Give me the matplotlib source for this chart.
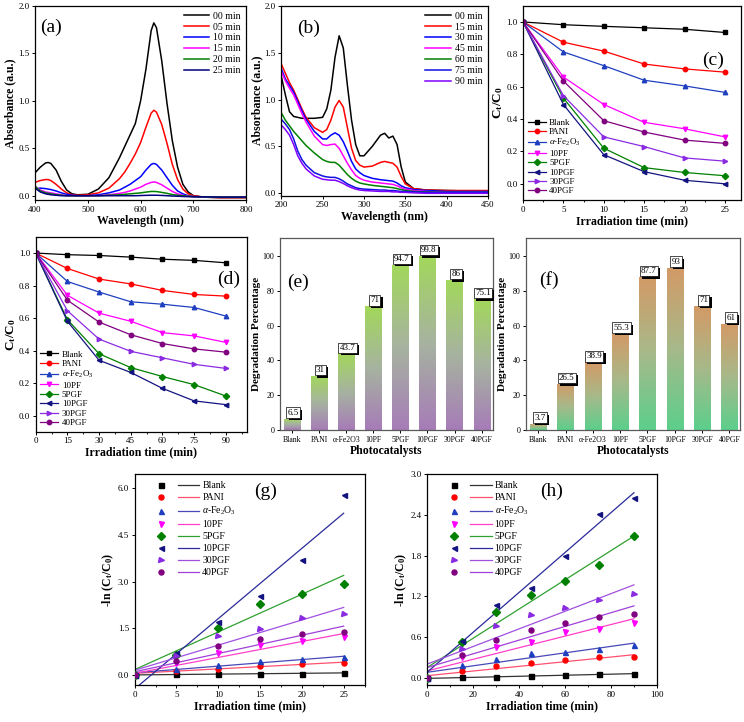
#!/usr/bin/env python3
"""Photocatalytic degradation figure: spectra, kinetics, bar summaries and fits."""

from __future__ import annotations

import matplotlib

matplotlib.use("Agg")
import matplotlib.patheffects as pe
import matplotlib.pyplot as plt
import numpy as np
from matplotlib.colors import LinearSegmentedColormap
from matplotlib.legend_handler import HandlerTuple
from matplotlib.lines import Line2D
from matplotlib.ticker import AutoMinorLocator


# ---- (a) UV-vis spectra, dye 1 ----
WL_A = [400, 410, 420, 425, 430, 440, 450, 460, 470, 480, 500, 520, 540, 560, 570,
        580, 590, 600, 610, 620, 625, 630, 640, 650, 660, 670, 680, 690, 700, 720,
        750, 800]
TIMES_A = ["00 min", "05 min", "10 min", "15 min", "20 min", "25 min"]
ABS_A = [
    [0.24, 0.30, 0.345, 0.35, 0.34, 0.27, 0.15, 0.06, 0.02, 0.01, 0.015, 0.07, 0.19,
     0.40, 0.52, 0.64, 0.76, 1.00, 1.33, 1.74, 1.82, 1.77, 1.42, 0.97, 0.58, 0.30,
     0.12, 0.04, 0.0, -0.015, -0.02, -0.02],
    [0.14, 0.16, 0.17, 0.17, 0.16, 0.12, 0.07, 0.03, 0.01, 0.005, 0.01, 0.03, 0.08,
     0.18, 0.25, 0.34, 0.44, 0.56, 0.72, 0.87, 0.90, 0.88, 0.75, 0.55, 0.33, 0.17,
     0.07, 0.02, 0.0, -0.015, -0.02, -0.02],
    [0.07, 0.08, 0.075, 0.07, 0.065, 0.05, 0.03, 0.015, 0.005, 0.0, 0.0, 0.01, 0.03,
     0.06, 0.09, 0.12, 0.16, 0.20, 0.27, 0.33, 0.34, 0.33, 0.27, 0.19, 0.11, 0.05,
     0.02, 0.0, -0.01, -0.012, -0.015, -0.015],
    [0.10, 0.06, 0.04, 0.035, 0.03, 0.02, 0.01, 0.0, 0.0, 0.0, 0.0, 0.0, 0.01,
     0.025, 0.035, 0.05, 0.07, 0.09, 0.12, 0.14, 0.145, 0.14, 0.115, 0.08, 0.045,
     0.02, 0.005, -0.005, -0.01, -0.012, -0.015, -0.015],
    [0.10, 0.05, 0.03, 0.025, 0.02, 0.01, 0.005, 0.0, 0.0, 0.0, 0.0, 0.0, 0.005,
     0.01, 0.015, 0.02, 0.025, 0.03, 0.038, 0.045, 0.045, 0.044, 0.035, 0.025,
     0.012, 0.005, 0.0, -0.005, -0.01, -0.012, -0.015, -0.015],
    [0.08, 0.04, 0.02, 0.015, 0.01, 0.005, 0.0, 0.0, 0.0, 0.0, 0.0, 0.0, 0.0, 0.0,
     0.0, 0.0, 0.0, 0.002, 0.004, 0.005, 0.005, 0.005, 0.003, 0.0, -0.003, -0.005,
     -0.008, -0.01, -0.01, -0.012, -0.015, -0.015],
]
COLORS_A = ["black", "#ff0000", "#0000ff", "#ff00ff", "#008000", "#000080"]

# ---- (b) UV-vis spectra, dye 2 ----
WL_B = [200, 205, 210, 215, 220, 225, 230, 240, 250, 255, 260, 265, 270, 275, 280,
        285, 290, 295, 300, 310, 320, 325, 330, 335, 340, 345, 350, 360, 375, 400,
        450]
TIMES_B = ["00 min", "15 min", "30 min", "45 min", "60 min", "75 min", "90 min"]
ABS_B = [
    [1.25, 1.05, 0.87, 0.82, 0.81, 0.80, 0.80, 0.80, 0.81, 0.90, 1.10, 1.45, 1.68,
     1.55, 1.15, 0.78, 0.52, 0.40, 0.40, 0.50, 0.62, 0.64, 0.59, 0.61, 0.52, 0.28,
     0.12, 0.05, 0.035, 0.03, 0.02],
    [1.38, 1.28, 1.18, 1.10, 1.00, 0.90, 0.81, 0.70, 0.65, 0.68, 0.78, 0.92, 0.99,
     0.92, 0.70, 0.48, 0.35, 0.30, 0.28, 0.29, 0.33, 0.34, 0.33, 0.32, 0.28, 0.18,
     0.10, 0.05, 0.035, 0.03, 0.03],
    [1.33, 1.22, 1.15, 1.08, 0.98, 0.88, 0.79, 0.66, 0.58, 0.58, 0.62, 0.645, 0.62,
     0.55, 0.45, 0.34, 0.26, 0.22, 0.19, 0.16, 0.145, 0.14, 0.135, 0.13, 0.11, 0.08,
     0.06, 0.04, 0.03, 0.02, 0.02],
    [1.30, 1.20, 1.12, 1.05, 0.95, 0.85, 0.76, 0.61, 0.52, 0.51, 0.52, 0.525, 0.48,
     0.40, 0.32, 0.25, 0.19, 0.16, 0.14, 0.12, 0.11, 0.105, 0.10, 0.095, 0.08, 0.06,
     0.045, 0.03, 0.02, 0.01, 0.01],
    [0.86, 0.78, 0.72, 0.66, 0.61, 0.56, 0.51, 0.43, 0.36, 0.34, 0.33, 0.33, 0.30,
     0.25, 0.20, 0.16, 0.13, 0.11, 0.10, 0.085, 0.075, 0.07, 0.065, 0.06, 0.05, 0.04,
     0.03, 0.02, 0.015, 0.01, 0.01],
    [0.79, 0.74, 0.68, 0.58, 0.45, 0.36, 0.30, 0.22, 0.185, 0.175, 0.17, 0.17, 0.155,
     0.13, 0.10, 0.08, 0.06, 0.05, 0.045, 0.04, 0.035, 0.035, 0.03, 0.03, 0.025,
     0.02, 0.02, 0.015, 0.01, 0.01, 0.01],
    [0.73, 0.68, 0.62, 0.52, 0.40, 0.32, 0.26, 0.185, 0.15, 0.145, 0.14, 0.14, 0.125,
     0.105, 0.08, 0.06, 0.045, 0.035, 0.03, 0.025, 0.02, 0.02, 0.02, 0.015, 0.015,
     0.01, 0.01, 0.005, 0.0, 0.0, 0.0],
]
COLORS_B = ["black", "#ff0000", "#0000ff", "#ff00ff", "#008000", "#1010e0", "#8000ff"]

# ---- samples shared by (c)-(h) ----
SAMPLES = ["Blank", "PANI", r"$\alpha$-Fe$_2$O$_3$", "10PF", "5PGF", "10PGF", "30PGF", "40PGF"]
BAR_LABELS = ["Blank", "PANI", "α-Fe2O3", "10PF", "5PGF", "10PGF", "30PGF", "40PGF"]
MARKERS = ["s", "o", "^", "v", "D", "<", ">", "o"]
COLORS = ["black", "#ff0000", "#1f3fbf", "#ff00ff", "#008000", "#141480", "#8a2be2", "#800080"]
FIT_COLORS = ["#333333", "#ff5070", "#4848b8", "#ff40c8", "#30a030", "#2a2a9a", "#a050e0", "#a040d8"]

# ---- (c) Ct/C0 vs time, dye 1 ----
TIME_C = [0, 5, 10, 15, 20, 25]
RATIO_C = [
    [1.0, 0.983, 0.973, 0.964, 0.955, 0.935],
    [1.0, 0.875, 0.82, 0.74, 0.71, 0.69],
    [1.0, 0.815, 0.73, 0.64, 0.605, 0.565],
    [1.0, 0.66, 0.49, 0.38, 0.34, 0.29],
    [1.0, 0.53, 0.22, 0.10, 0.07, 0.05],
    [1.0, 0.49, 0.18, 0.075, 0.022, 0.0],
    [1.0, 0.545, 0.29, 0.23, 0.16, 0.14],
    [1.0, 0.635, 0.39, 0.32, 0.27, 0.25],
]

# ---- (d) Ct/C0 vs time, dye 2 ----
TIME_D = [0, 15, 30, 45, 60, 75, 90]
RATIO_D = [
    [1.0, 0.99, 0.985, 0.975, 0.962, 0.955, 0.94],
    [1.0, 0.905, 0.84, 0.81, 0.77, 0.745, 0.735],
    [1.0, 0.825, 0.76, 0.70, 0.685, 0.665, 0.612],
    [1.0, 0.74, 0.63, 0.58, 0.51, 0.49, 0.45],
    [1.0, 0.59, 0.38, 0.295, 0.24, 0.19, 0.12],
    [1.0, 0.58, 0.34, 0.265, 0.167, 0.09, 0.067],
    [1.0, 0.645, 0.47, 0.395, 0.355, 0.315, 0.29],
    [1.0, 0.71, 0.575, 0.497, 0.443, 0.41, 0.39],
]

# ---- (e), (f) degradation percentages ----
DEGRADATION_E = [6.5, 31, 43.7, 71, 94.7, 99.8, 86, 75.1]
DEGRADATION_F = [3.7, 26.5, 38.9, 55.3, 87.7, 93, 71, 61]
LABELS_E = ["6.5", "31", "43.7", "71", "94.7", "99.8", "86", "75.1"]
LABELS_F = ["3.7", "26.5", "38.9", "55.3", "87.7", "93", "71", "61"]

# ---- (g) -ln(Ct/C0) vs time, dye 1 ----
LN_G = [
    [0.0, 0.015, 0.025, 0.035, 0.045, 0.065],
    [0.0, 0.13, 0.20, 0.30, 0.34, 0.37],
    [0.0, 0.20, 0.31, 0.45, 0.50, 0.57],
    [0.0, 0.39, 0.70, 0.95, 1.08, 1.22],
    [0.0, 0.63, 1.52, 2.29, 2.60, 2.93],
    [0.0, 0.71, 1.70, 2.55, 3.70, 5.80],
    [0.0, 0.60, 1.24, 1.47, 1.83, 1.97],
    [0.0, 0.45, 0.94, 1.14, 1.31, 1.39],
]
FIT_SLOPE_G = [0.0026, 0.0144, 0.0212, 0.0512, 0.1212, 0.2260, 0.0808, 0.0588]
FIT_INTERCEPT_G = [0.0, 0.05, 0.07, 0.05, 0.17, -0.45, 0.15, 0.10]

# ---- (h) -ln(Ct/C0) vs time, dye 2 ----
LN_H = [
    [0.0, 0.01, 0.015, 0.025, 0.04, 0.05, 0.06],
    [0.0, 0.10, 0.175, 0.21, 0.26, 0.30, 0.31],
    [0.0, 0.19, 0.28, 0.36, 0.38, 0.42, 0.49],
    [0.0, 0.30, 0.45, 0.53, 0.67, 0.72, 0.80],
    [0.0, 0.52, 0.97, 1.22, 1.43, 1.66, 2.09],
    [0.0, 0.54, 1.08, 1.32, 1.79, 2.41, 2.65],
    [0.0, 0.43, 0.76, 0.93, 1.03, 1.15, 1.24],
    [0.0, 0.34, 0.55, 0.70, 0.81, 0.89, 0.94],
]
FIT_SLOPE_H = [0.00078, 0.00344, 0.00478, 0.00856, 0.02156, 0.02944, 0.0130, 0.01011]
FIT_INTERCEPT_H = [-0.01, 0.03, 0.08, 0.10, 0.15, 0.08, 0.20, 0.15]

SERIF = "Liberation Serif"
TICK_SIZE = 6.5
LABEL_SIZE = 8.5
LEGEND_SIZE = 7


def style_axes(ax, minor_x: bool = True) -> None:
    ax.tick_params(direction="out", length=2.5, width=0.7, labelsize=TICK_SIZE, pad=1.5)
    ax.tick_params(which="minor", direction="out", length=1.5, width=0.6)
    if minor_x:
        ax.xaxis.set_minor_locator(AutoMinorLocator(2))
    for spine in ax.spines.values():
        spine.set_linewidth(0.9)


def panel_tag(ax, x: float, y: float, tag: str) -> None:
    ax.text(x, y, tag, transform=ax.transAxes, fontsize=14, va="center", ha="left")


def plot_spectra(ax, wl, curves, colors, labels, xlim, ylim, xticks, tag, tag_xy) -> None:
    for values, color, label in zip(curves, colors, labels):
        ax.plot(wl, values, color=color, linewidth=1.1, label=label)
    ax.set_xlim(*xlim)
    ax.set_ylim(*ylim)
    ax.set_xticks(xticks)
    ax.set_yticks([0.0, 0.5, 1.0, 1.5, 2.0])
    ax.set_xlabel("Wavelength (nm)", fontsize=LABEL_SIZE, fontweight="bold", labelpad=1)
    ax.set_ylabel("Absorbance (a.u.)", fontsize=LABEL_SIZE, fontweight="bold", labelpad=1)
    style_axes(ax, minor_x=False)
    ax.legend(loc="upper right", frameon=False, fontsize=LEGEND_SIZE, handlelength=2.6,
              labelspacing=0.2, borderaxespad=0.2, handletextpad=0.4)
    panel_tag(ax, *tag_xy, tag)


def plot_ratio(ax, times, ratios, xlim, xticks, tag, tag_xy) -> None:
    for values, color, marker, label in zip(ratios, COLORS, MARKERS, SAMPLES):
        ax.plot(times, values, color=color, marker=marker, markersize=3.2,
                linewidth=0.9, label=label)
    ax.set_xlim(*xlim)
    ax.set_ylim(-0.1, 1.1)
    ax.set_xticks(xticks)
    ax.set_yticks([0.0, 0.2, 0.4, 0.6, 0.8, 1.0])
    ax.set_xlabel("Irradiation time (min)", fontsize=LABEL_SIZE, fontweight="bold",
                  labelpad=1)
    ax.set_ylabel(r"C$_\mathbf{t}$/C$_\mathbf{0}$", fontsize=9.5, fontweight="bold",
                  labelpad=1)
    style_axes(ax)
    ax.legend(loc="lower left", frameon=False, fontsize=6.5, handlelength=2.0,
              labelspacing=0.12, borderaxespad=0.1, handletextpad=0.4,
              bbox_to_anchor=(0.0, 0.0))
    panel_tag(ax, *tag_xy, tag)


def plot_bars(ax, values, labels, bottom_color, mid_color, top_color, tag, tag_xy) -> None:
    cmap = LinearSegmentedColormap.from_list("grad", [bottom_color, mid_color, top_color])
    gradient = np.linspace(0, 1, 256).reshape(-1, 1)
    positions = np.arange(len(values))
    bars = ax.bar(positions, values, width=0.6, color="none", edgecolor="none")
    for bar in bars:
        x0, h, w = bar.get_x(), bar.get_height(), bar.get_width()
        img = ax.imshow(gradient, cmap=cmap, origin="lower", aspect="auto",
                        extent=(x0, x0 + w, 0, h), zorder=2)
        img.set_clip_path(bar)
    for pos, value, text in zip(positions, values, labels):
        label = ax.annotate(text, (pos + 0.05, value + 3.5), ha="center", va="center",
                            fontsize=6.5, family=SERIF, zorder=5,
                            bbox=dict(boxstyle="square,pad=0.15", fc="white", ec="black",
                                      lw=0.5))
        label.get_bbox_patch().set_path_effects([
            pe.SimplePatchShadow(offset=(1.6, -1.6), shadow_rgbFace="black", alpha=1.0),
            pe.Normal(),
        ])
    ax.set_xlim(-0.45, len(values) - 0.6)
    ax.set_ylim(0, 110)
    ax.set_xticks(positions)
    ax.set_xticklabels(labels=BAR_LABELS)
    ax.set_yticks([0, 20, 40, 60, 80, 100])
    ax.set_xlabel("Photocatalysts", fontsize=LABEL_SIZE, fontweight="bold", labelpad=1)
    ax.set_ylabel("Degradation Percentage", fontsize=LABEL_SIZE - 0.5, fontweight="bold",
                  labelpad=1)
    style_axes(ax, minor_x=False)
    ax.tick_params(axis="x", labelsize=5.6)
    ax.tick_params(axis="y", labelsize=5.8)
    for spine in ax.spines.values():
        spine.set_color("0.35")
    panel_tag(ax, *tag_xy, tag)


def plot_fits(ax, times, values_list, slopes, intercepts, xlim, ylim, xticks, yticks,
              ytick_labels, tag, tag_xy) -> None:
    handles = []
    t_fit = np.array([times[0], times[-1]])
    for values, slope, intercept, color, fit_color, marker in zip(
        values_list, slopes, intercepts, COLORS, FIT_COLORS, MARKERS
    ):
        ax.plot(times, values, linestyle="none", marker=marker, markersize=3.6,
                color=color, zorder=3)
        ax.plot(t_fit, slope * t_fit + intercept, color=fit_color, linewidth=0.9)
        handles.append((
            Line2D([], [], linestyle="none", marker=marker, markersize=3.6, color=color),
            Line2D([], [], color=fit_color, linewidth=0.9),
        ))
    ax.set_xlim(*xlim)
    ax.set_ylim(*ylim)
    ax.set_xticks(xticks)
    ax.set_yticks(yticks)
    ax.set_yticklabels(ytick_labels)
    ax.set_xlabel("Irradiation time (min)", fontsize=LABEL_SIZE, fontweight="bold",
                  labelpad=1)
    ax.set_ylabel(r"-ln (C$_\mathbf{t}$/C$_\mathbf{0}$)", fontsize=LABEL_SIZE,
                  fontweight="bold", labelpad=1)
    style_axes(ax)
    ax.legend(handles, SAMPLES, loc="upper left", frameon=False, fontsize=LEGEND_SIZE,
              handler_map={tuple: HandlerTuple(ndivide=None, pad=0.6)},
              handlelength=5.0, labelspacing=0.3, borderaxespad=0.3,
              handletextpad=0.3, bbox_to_anchor=(0.04, 1.0))
    panel_tag(ax, *tag_xy, tag)


def main() -> None:
    plt.rcParams["font.family"] = [SERIF, "DejaVu Serif"]
    plt.rcParams["mathtext.fontset"] = "custom"
    plt.rcParams["mathtext.rm"] = SERIF
    plt.rcParams["mathtext.it"] = SERIF + ":italic"
    plt.rcParams["mathtext.bf"] = SERIF + ":bold"

    fig = plt.figure(figsize=(7.44, 7.22), dpi=100)

    ax_a = fig.add_axes([0.047, 0.723, 0.284, 0.269])
    plot_spectra(ax_a, WL_A, ABS_A, COLORS_A, TIMES_A, (400, 800), (-0.045, 2.0),
                 [400, 500, 600, 700, 800], "(a)", (0.025, 0.89))

    ax_b = fig.add_axes([0.378, 0.729, 0.278, 0.263])
    plot_spectra(ax_b, WL_B, ABS_B, COLORS_B, TIMES_B, (200, 450), (-0.025, 2.0),
                 [200, 250, 300, 350, 400, 450], "(b)", (0.075, 0.88))

    ax_c = fig.add_axes([0.703, 0.723, 0.293, 0.269])
    plot_ratio(ax_c, TIME_C, RATIO_C, (0, 27), [0, 5, 10, 15, 20, 25], "(c)", (0.82, 0.72))

    ax_d = fig.add_axes([0.048, 0.402, 0.284, 0.270])
    plot_ratio(ax_d, TIME_D, RATIO_D, (0, 100), [0, 15, 30, 45, 60, 75, 90], "(d)",
               (0.86, 0.78))

    ax_e = fig.add_axes([0.376, 0.404, 0.286, 0.266])
    plot_bars(ax_e, DEGRADATION_E, LABELS_E, "#a67cb8", "#a7b3a0", "#a2d85a", "(e)",
              (0.035, 0.77))

    ax_f = fig.add_axes([0.707, 0.404, 0.288, 0.266])
    plot_bars(ax_f, DEGRADATION_F, LABELS_F, "#5ccf8c", "#a7b98a", "#d39a66", "(f)",
              (0.06, 0.78))

    ax_g = fig.add_axes([0.181, 0.051, 0.309, 0.292])
    plot_fits(ax_g, TIME_C, LN_G, FIT_SLOPE_G, FIT_INTERCEPT_G, (0, 27.5), (-0.33, 6.45),
              [0, 5, 10, 15, 20, 25], [0.0, 1.5, 3.0, 4.5, 6.0],
              ["0.0", "1.5", "3.0", "4.5", "6.0"], "(g)", (0.52, 0.92))

    ax_h = fig.add_axes([0.574, 0.051, 0.309, 0.292])
    plot_fits(ax_h, TIME_D, LN_H, FIT_SLOPE_H, FIT_INTERCEPT_H, (0, 100), (-0.11, 3.0),
              [0, 20, 40, 60, 80, 100], [0.0, 0.6, 1.2, 1.8, 2.4, 3.0],
              ["0.0", "0.6", "1.2", "1.8", "2.4", "3.0"], "(h)", (0.49, 0.92))

    fig.savefig("out.png", dpi=100)
    plt.close(fig)


if __name__ == "__main__":
    main()
